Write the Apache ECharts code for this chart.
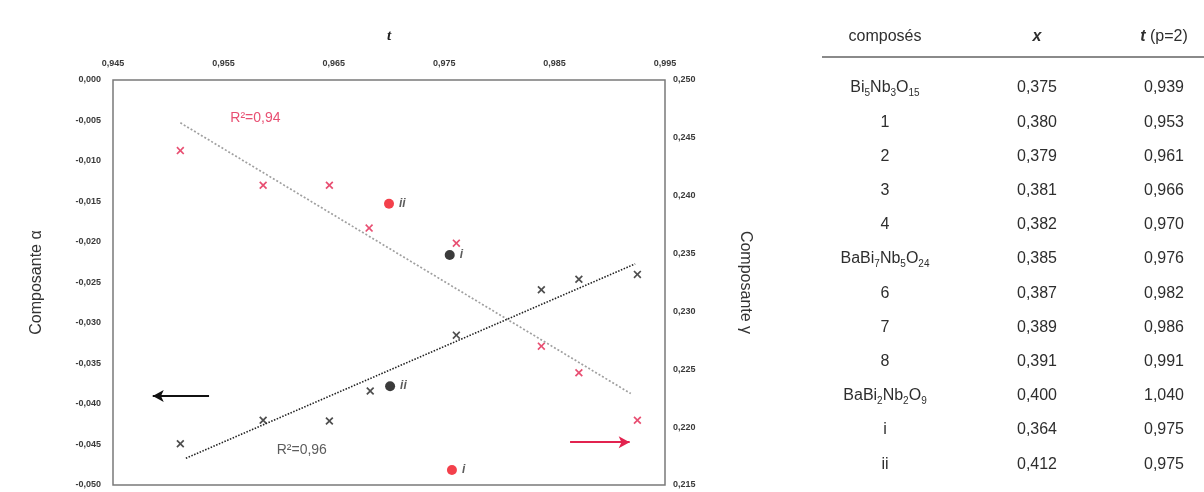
<!DOCTYPE html>
<html>
<head>
<meta charset="utf-8">
<script src="https://cdn.jsdelivr.net/npm/echarts@6/dist/echarts.min.js"></script>
<style>
html,body{margin:0;padding:0;background:#fff;}
#chart{width:1204px;height:492px;}
</style>
</head>
<body>
<div id="chart"></div>
<script>
// ---- scatter data ----
const tBlack = [0.9511, 0.9586, 0.9646, 0.9683, 0.9761, 0.9838, 0.9872, 0.9925];
const alphaBlack = [-0.0449, -0.0420, -0.0421, -0.0384, -0.0315, -0.0259, -0.0246, -0.0240];
const tRed = [0.9511, 0.9586, 0.9646, 0.9682, 0.9761, 0.9838, 0.9872, 0.9925];
const gammaRed = [0.2439, 0.2409, 0.2409, 0.2372, 0.2359, 0.2270, 0.2247, 0.2206];
const pointNames = ['i', 'ii'];
const tBlackCircles = [0.9755, 0.9701];
const alphaBlackCircles = [-0.0216, -0.0378];
const tRedCircles = [0.9757, 0.9700];
const gammaRedCircles = [0.2163, 0.2393];
// trend lines (end points)
const tTrendBlack = [0.9516, 0.9923];
const alphaTrendBlack = [-0.0467, -0.0227];
const tTrendRed = [0.9511, 0.9919];
const gammaTrendRed = [0.2463, 0.2229];
// annotations
const r2Texts = ['R²=0,94', 'R²=0,96'];
const r2Red = [0.9579, 0.2467];
const r2Black = [0.9621, -0.0457];
const arrowBlackT = [0.9537, 0.9486];
const arrowBlackAlpha = -0.0390;
const arrowRedT = [0.9864, 0.9918];
const arrowRedGamma = 0.2187;
// axes
const tTickLabels = ['0,945', '0,955', '0,965', '0,975', '0,985', '0,995'];
// ---- table ----
const tableHeaders = ['composés', '{b|x}', '{b|t} (p=2)'];
const compounds = ['Bi{s|5}Nb{s|3}O{s|15}', '1', '2', '3', '4', 'BaBi{s|7}Nb{s|5}O{s|24}', '6', '7', '8', 'BaBi{s|2}Nb{s|2}O{s|9}', 'i', 'ii'];
const xValues = ['0,375', '0,380', '0,379', '0,381', '0,382', '0,385', '0,387', '0,389', '0,391', '0,400', '0,364', '0,412'];
const tValues = ['0,939', '0,953', '0,961', '0,966', '0,970', '0,976', '0,982', '0,986', '0,991', '1,040', '0,975', '0,975'];

const SANS = '"Liberation Sans", Arial, sans-serif';
const RED = '#e2234f';
const RED_DOT = '#f0101e';
const crossPath = 'path://M0,1.5L1.5,0L5,3.5L8.5,0L10,1.5L6.5,5L10,8.5L8.5,10L5,6.5L1.5,10L0,8.5L3.5,5Z';
const fmt3 = v => v.toFixed(3).replace('.', ',');
const zip = (a, b) => a.map((v, i) => [v, b[i]]);

const tickStyle = {fontFamily: SANS, fontSize: 9, fontWeight: 'bold', color: '#3a3a3a'};

// table graphic
const colX = [885, 1037, 1164];
const headerY = 37, ruleY = 57, row0Y = 88, rowStep = 34.2;
const TXT = '#2e2e2e';
const richDef = {
  s: {fontSize: 10, lineHeight: 12, verticalAlign: 'bottom', fontFamily: SANS, fill: TXT},
  b: {fontSize: 16, fontWeight: 'bold', fontStyle: 'italic', fontFamily: SANS, fill: TXT}
};
function cell(text, x, y) {
  return {type: 'text', x: x, y: y, silent: true,
    style: {text: text, fontSize: 16, fontFamily: SANS, fill: TXT, lineHeight: 20,
      align: 'center', verticalAlign: 'middle', rich: richDef}};
}
const tableEls = [];
tableHeaders.forEach((h, i) => tableEls.push(cell(h, colX[i], headerY)));
tableEls.push({type: 'line', silent: true, shape: {x1: 822, y1: ruleY, x2: 1204, y2: ruleY},
  style: {stroke: '#8a8a8a', lineWidth: 2}});
compounds.forEach((c, r) => {
  const y = row0Y + r * rowStep;
  tableEls.push(cell(c, colX[0], y));
  tableEls.push(cell(xValues[r], colX[1], y));
  tableEls.push(cell(tValues[r], colX[2], y));
});

const chart = echarts.init(document.getElementById('chart'), null, {renderer: 'canvas'});
chart.setOption({
  animation: false,
  backgroundColor: '#ffffff',
  grid: {left: 113, top: 80, width: 552, height: 405, show: true, borderColor: '#7a7a7a', borderWidth: 1.5, backgroundColor: 'transparent'},
  xAxis: {
    type: 'value', position: 'top', min: 0.945, max: 0.995, interval: 0.005,
    axisLine: {show: false}, axisTick: {show: false}, splitLine: {show: false},
    axisLabel: Object.assign({margin: 12, showMinLabel: true, showMaxLabel: true,
      formatter: v => { const s = fmt3(v); return tTickLabels.indexOf(s) >= 0 ? s : ''; }}, tickStyle),
    name: 't', nameLocation: 'middle', nameGap: 36,
    nameTextStyle: {fontFamily: '"Liberation Serif", serif', fontStyle: 'italic', fontWeight: 'bold', fontSize: 15, color: '#222'}
  },
  yAxis: [{
    type: 'value', position: 'left', min: -0.05, max: 0, interval: 0.005,
    axisLine: {show: false}, axisTick: {show: false}, splitLine: {show: false},
    axisLabel: Object.assign({margin: 12, formatter: fmt3}, tickStyle),
    name: 'Composante α', nameLocation: 'middle', nameGap: 68,
    nameTextStyle: {fontFamily: SANS, fontSize: 16, color: '#333'}
  }, {
    type: 'value', position: 'right', min: 0.215, max: 0.25, interval: 0.005,
    axisLine: {show: false}, axisTick: {show: false}, splitLine: {show: false},
    axisLabel: Object.assign({margin: 8, formatter: fmt3}, tickStyle),
    name: 'Composante γ', nameLocation: 'middle', nameGap: 72, nameRotate: -90,
    nameTextStyle: {fontFamily: SANS, fontSize: 16, color: '#333'}
  }],
  series: [
    {type: 'line', yAxisIndex: 1, data: zip(tTrendRed, gammaTrendRed), showSymbol: false, silent: true,
      lineStyle: {color: '#a0a0a0', width: 1.7, type: [2, 2]}},
    {type: 'line', yAxisIndex: 0, data: zip(tTrendBlack, alphaTrendBlack), showSymbol: false, silent: true,
      lineStyle: {color: '#222', width: 1.6, type: [1.5, 1.5]}},
    {type: 'scatter', yAxisIndex: 0, data: zip(tBlack, alphaBlack), symbol: crossPath, symbolSize: 8,
      itemStyle: {color: '#222'}},
    {type: 'scatter', yAxisIndex: 1, data: zip(tRed, gammaRed), symbol: crossPath, symbolSize: 8,
      itemStyle: {color: RED}},
    {type: 'scatter', yAxisIndex: 0, symbolSize: 10, itemStyle: {color: '#0a0a0a'},
      data: pointNames.map((n, i) => ({name: n, value: [tBlackCircles[i], alphaBlackCircles[i]]})),
      label: {show: true, position: 'right', distance: 5, formatter: p => p.name,
        fontFamily: SANS, fontStyle: 'italic', fontWeight: 'bold', fontSize: 12, color: '#333'}},
    {type: 'scatter', yAxisIndex: 1, symbolSize: 10, itemStyle: {color: RED_DOT},
      data: pointNames.map((n, i) => ({name: n, value: [tRedCircles[i], gammaRedCircles[i]]})),
      label: {show: true, position: 'right', distance: 5, formatter: p => p.name,
        fontFamily: SANS, fontStyle: 'italic', fontWeight: 'bold', fontSize: 12, color: '#333'}},
    {type: 'scatter', yAxisIndex: 1, symbolSize: 1, itemStyle: {color: 'transparent'},
      data: [{name: r2Texts[0], value: r2Red}],
      label: {show: true, position: 'inside', formatter: p => p.name, fontFamily: SANS, fontSize: 14, color: RED}},
    {type: 'scatter', yAxisIndex: 0, symbolSize: 1, itemStyle: {color: 'transparent'},
      data: [{name: r2Texts[1], value: r2Black}],
      label: {show: true, position: 'inside', formatter: p => p.name, fontFamily: SANS, fontSize: 14, color: '#333'}},
    {type: 'line', yAxisIndex: 0, data: [], silent: true,
      markLine: {silent: true, symbol: ['none', 'arrow'], symbolSize: [9, 11], label: {show: false},
        lineStyle: {color: '#111', width: 2, type: 'solid'},
        data: [[{coord: [arrowBlackT[0], arrowBlackAlpha]}, {coord: [arrowBlackT[1], arrowBlackAlpha]}]]}},
    {type: 'line', yAxisIndex: 1, data: [], silent: true,
      markLine: {silent: true, symbol: ['none', 'arrow'], symbolSize: [9, 11], label: {show: false},
        lineStyle: {color: RED, width: 2, type: 'solid'},
        data: [[{coord: [arrowRedT[0], arrowRedGamma]}, {coord: [arrowRedT[1], arrowRedGamma]}]]}}
  ],
  graphic: tableEls
});
</script>
</body>
</html>
